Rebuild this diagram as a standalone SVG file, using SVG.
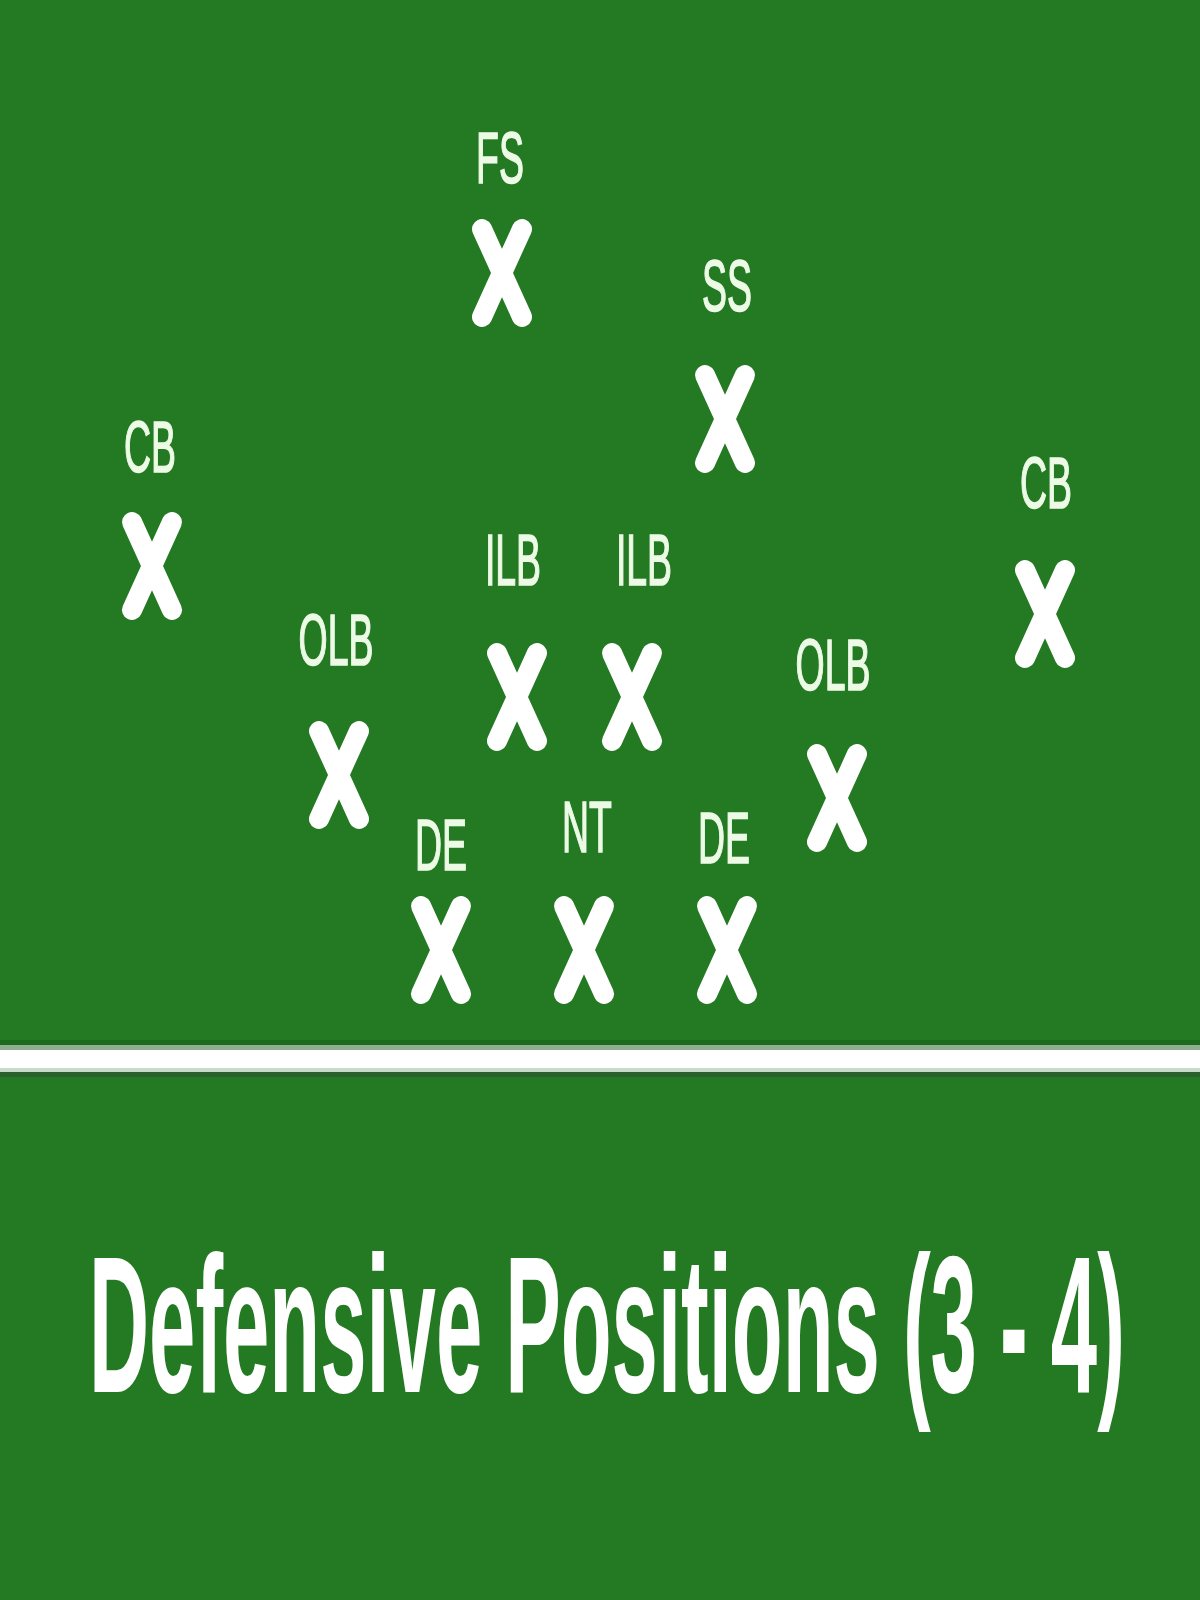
<svg xmlns="http://www.w3.org/2000/svg" xmlns:xlink="http://www.w3.org/1999/xlink" width="1200" height="1600" viewBox="0 0 1200 1600">
<style>
.lbl{font-family:"Liberation Sans",Arial,sans-serif;font-size:72px;fill:#ecfae6;stroke:#ecfae6;stroke-width:1.6;text-anchor:middle}
.mark{fill:none;stroke:#ffffff;stroke-width:20;stroke-linecap:round}
.title{font-family:"Liberation Sans",Arial,sans-serif;font-weight:bold;font-size:194px;fill:#ffffff}
</style>
<defs>
<path id="x" class="mark" d="M-20,-44 L20,44 M20,-44 L-20,44"/>
</defs>
<rect x="0" y="0" width="1200" height="1600" fill="#237a23"/>
<g id="divider">
<rect x="0" y="1040" width="1200" height="5" fill="#1d6a1d"/>
<rect x="0" y="1045" width="1200" height="5" fill="#8fae8f"/>
<rect x="0" y="1050" width="1200" height="18" fill="#ffffff"/>
<rect x="0" y="1068" width="1200" height="4" fill="#c9dac9"/>
<rect x="0" y="1072" width="1200" height="5" fill="#2b5f2b"/>
</g>
<g id="connectors"></g>
<g id="fs"><text class="lbl" transform="translate(500,183) scale(0.52,1)">FS</text><use xlink:href="#x" x="502" y="273"/></g>
<g id="ss"><text class="lbl" transform="translate(727,311) scale(0.52,1)">SS</text><use xlink:href="#x" x="725" y="419"/></g>
<g id="cb-left"><text class="lbl" transform="translate(150,472) scale(0.52,1)">CB</text><use xlink:href="#x" x="152" y="566"/></g>
<g id="cb-right"><text class="lbl" transform="translate(1046,508) scale(0.52,1)">CB</text><use xlink:href="#x" x="1045" y="614"/></g>
<g id="ilb-left"><text class="lbl" transform="translate(513,585) scale(0.52,1)">ILB</text><use xlink:href="#x" x="517" y="697"/></g>
<g id="ilb-right"><text class="lbl" transform="translate(644,585) scale(0.52,1)">ILB</text><use xlink:href="#x" x="632" y="697"/></g>
<g id="olb-left"><text class="lbl" transform="translate(336,665) scale(0.52,1)">OLB</text><use xlink:href="#x" x="339" y="775"/></g>
<g id="olb-right"><text class="lbl" transform="translate(833,690) scale(0.52,1)">OLB</text><use xlink:href="#x" x="837" y="798"/></g>
<g id="de-left"><text class="lbl" transform="translate(441,870) scale(0.52,1)">DE</text><use xlink:href="#x" x="441" y="950"/></g>
<g id="nt"><text class="lbl" transform="translate(587,852) scale(0.52,1)">NT</text><use xlink:href="#x" x="584" y="950"/></g>
<g id="de-right"><text class="lbl" transform="translate(724,863) scale(0.52,1)">DE</text><use xlink:href="#x" x="727" y="950"/></g>
<g id="title"><text class="title" transform="translate(89,1392) scale(0.429,1)">Defensive Positions (3 - 4)</text></g>
</svg>
